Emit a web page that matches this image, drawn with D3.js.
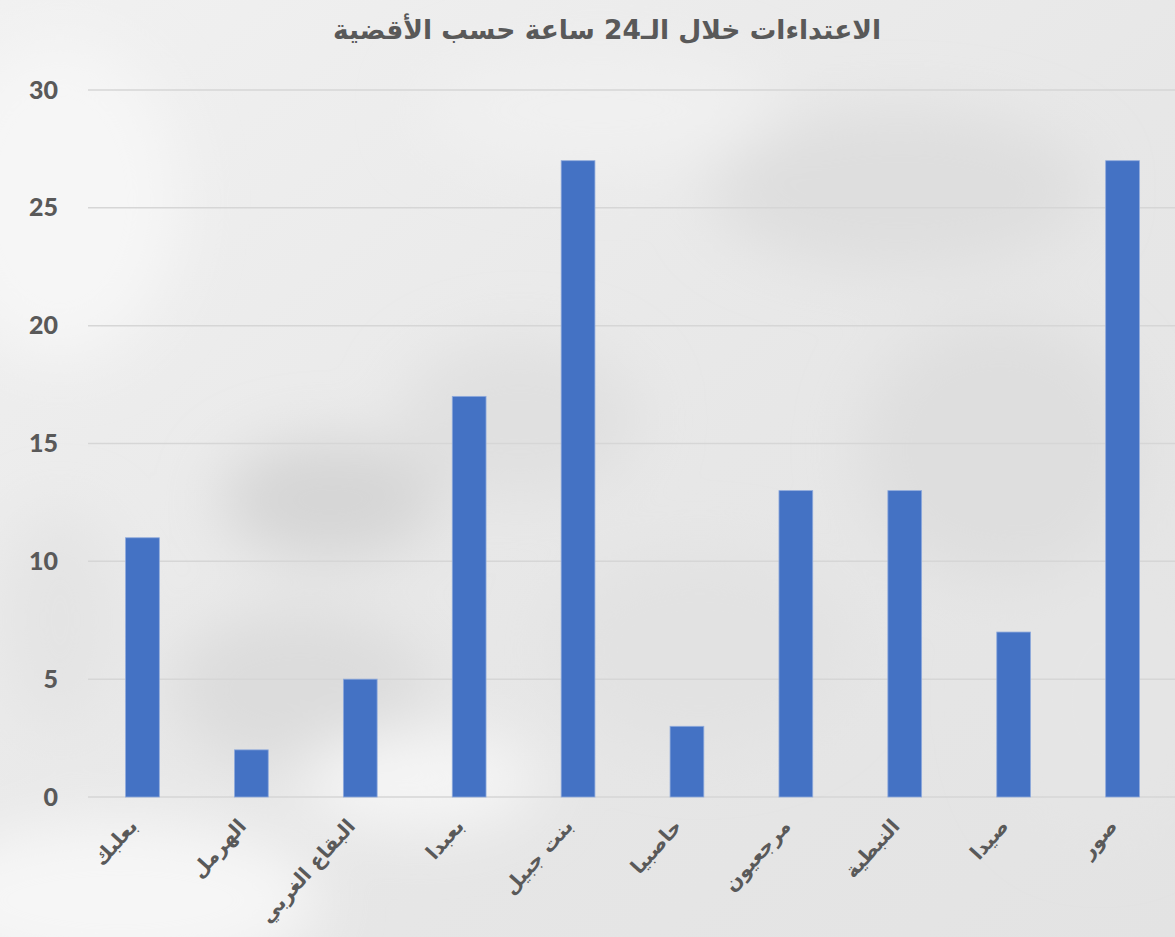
<!DOCTYPE html>
<html>
<head>
<meta charset="utf-8">
<script src="https://cdn.jsdelivr.net/npm/d3@7"></script>
<style>
  body { margin: 0; background: #ebebeb; }
  svg { display: block; }
</style>
</head>
<body>
<div id="chart"></div>
<script>
const chartTitle = "الاعتداءات خلال الـ24 ساعة حسب الأقضية";
const districts = ["بعلبك", "الهرمل", "البقاع الغربي", "بعبدا", "بنت جبيل", "حاصبيا", "مرجعيون", "النبطية", "صيدا", "صور"];
const attacks = [11, 2, 5, 17, 27, 3, 13, 13, 7, 27];
const yTicks = [0, 5, 10, 15, 20, 25, 30];

const width = 1175, height = 937;
const margin = { top: 90, right: -2, bottom: 140, left: 88 };

const svg = d3.select("#chart").append("svg")
  .attr("width", width)
  .attr("height", height);

// cloudy grey backdrop
const defs = svg.append("defs");
defs.append("filter").attr("id", "blur")
  .attr("x", "-50%").attr("y", "-50%").attr("width", "200%").attr("height", "200%")
  .append("feGaussianBlur").attr("stdDeviation", 30);

const bgGrad = defs.append("linearGradient").attr("id", "bgGrad")
  .attr("x1", 0).attr("y1", 0).attr("x2", 1).attr("y2", 1);
bgGrad.append("stop").attr("offset", "0%").attr("stop-color", "#f1f1f1");
bgGrad.append("stop").attr("offset", "55%").attr("stop-color", "#e7e7e7");
bgGrad.append("stop").attr("offset", "100%").attr("stop-color", "#e3e3e3");

svg.append("rect").attr("width", width).attr("height", height).attr("fill", "url(#bgGrad)");

const clouds = [
  [60, 200, 120, 160, "#f6f6f6"],
  [330, 500, 110, 60, "#d5d5d5"],
  [300, 690, 130, 80, "#dcdcdc"],
  [520, 420, 120, 80, "#e0e0e0"],
  [900, 190, 190, 80, "#dedede"],
  [1000, 450, 140, 130, "#dedede"],
  [700, 650, 150, 100, "#e2e2e2"],
  [120, 900, 200, 80, "#f6f6f6"],
  [600, 110, 180, 60, "#f0f0f0"],
  [1100, 700, 100, 140, "#e5e5e5"],
  [60, 620, 60, 110, "#e4e4e4"],
  [420, 780, 120, 50, "#f5f5f5"]
];
svg.append("g").attr("filter", "url(#blur)")
  .selectAll("ellipse").data(clouds).join("ellipse")
  .attr("cx", d => d[0]).attr("cy", d => d[1])
  .attr("rx", d => d[2]).attr("ry", d => d[3])
  .attr("fill", d => d[4]);

const x = d3.scaleBand()
  .domain(districts)
  .range([margin.left, width - margin.right])
  .paddingInner(0.69)
  .paddingOuter(0.345);

const y = d3.scaleLinear()
  .domain([0, 30])
  .range([height - margin.bottom, margin.top]);

// gridlines
svg.append("g")
  .selectAll("line").data(yTicks).join("line")
  .attr("x1", margin.left).attr("x2", width)
  .attr("y1", d => y(d)).attr("y2", d => y(d))
  .attr("stroke", "#d6d6d6").attr("stroke-width", 1.5);

// y axis labels
const yAxis = svg.append("g")
  .attr("transform", `translate(${margin.left},0)`)
  .call(d3.axisLeft(y).tickValues(yTicks).tickSize(0).tickPadding(30));
yAxis.select(".domain").remove();
yAxis.selectAll("text")
  .attr("fill", "#595959")
  .style("font-family", "Lato, 'Open Sans', sans-serif")
  .style("font-weight", "900")
  .style("font-size", "25px");

// bars
svg.append("g")
  .selectAll("rect").data(attacks).join("rect")
  .attr("x", (d, i) => x(districts[i]))
  .attr("y", d => y(d))
  .attr("width", x.bandwidth())
  .attr("height", d => y(0) - y(d))
  .attr("fill", "#4472c4")
  .attr("stroke", "#8faadc")
  .attr("stroke-width", 0.8);

// category labels
const xAxis = svg.append("g")
  .attr("transform", `translate(0,${height - margin.bottom})`)
  .call(d3.axisBottom(x).tickSize(0).tickPadding(0));
xAxis.select(".domain").remove();
xAxis.selectAll("text")
  .attr("fill", "#595959")
  .attr("text-anchor", "end")
  .attr("dy", null)
  .attr("y", null)
  .attr("transform", "translate(-4,30) rotate(-48)")
  .style("font-family", "'DejaVu Sans', sans-serif")
  .style("font-weight", "bold")
  .style("font-size", "20px");

// title
svg.append("text")
  .attr("x", 607)
  .attr("y", 39)
  .attr("text-anchor", "middle")
  .attr("fill", "#595959")
  .style("font-family", "'DejaVu Sans', sans-serif")
  .style("font-weight", "bold")
  .style("font-size", "26.5px")
  .text(chartTitle);
</script>
</body>
</html>
